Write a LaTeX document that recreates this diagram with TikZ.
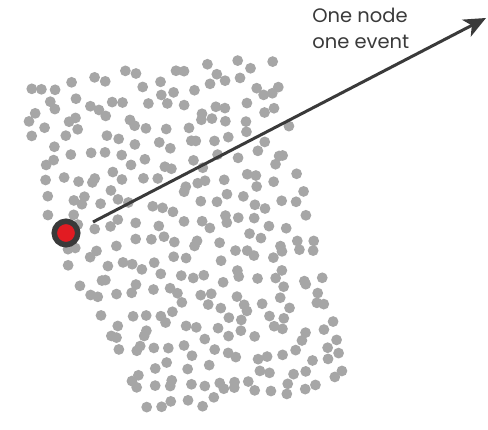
\documentclass[tikz,border=0pt]{standalone}
\usepackage{fontspec}
\setmainfont{Poppins}
\usetikzlibrary{arrows.meta}
\definecolor{dotgray}{HTML}{A6A6A6}
\definecolor{inkgray}{HTML}{3A3A3A}
\definecolor{eventred}{HTML}{E21B22}
\begin{document}
\begin{tikzpicture}[x=1pt, y=-1pt, line width=0.7pt]
	\useasboundingbox (0,0) rectangle (488,430);
	\pgfmathsetseed{4217}
	% nodes on a jittered grid over a skewed quadrilateral, left edge bowed out
	\foreach \i in {0,...,15} {
		\foreach \j in {0,...,18} {
			\pgfmathsetmacro{\u}{min(1,max(0,(\i+0.5+0.9*(rnd-0.5))/16))}
			\pgfmathsetmacro{\v}{min(1,max(0,(\j+0.5+0.9*(rnd-0.5))/19))}
			\pgfmathsetmacro{\px}{(1-\u)*(1-\v)*17 + \u*(1-\v)*274 + \u*\v*352 + (1-\u)*\v*150 - 100*(1-\u)*\v*(1-\v)}
			\pgfmathsetmacro{\py}{(1-\u)*(1-\v)*80 + \u*(1-\v)*54 + \u*\v*383 + (1-\u)*\v*420}
			\fill[dotgray] (\px,\py) circle (5.4pt);
		}
	}
	% the chosen node
	\node[circle, fill=eventred, draw=inkgray, line width=5.5pt,
		minimum size=23.5pt, inner sep=0pt] (event) at (66,233) {};
	\coordinate (tail) at (93,222);
	\coordinate (head) at (486,18);
	\draw[-{Stealth[length=22pt, width=19pt, inset=6pt]}, line width=3pt, inkgray]
		(tail) -- (head);
	\node[anchor=north west, align=left, inner sep=0pt, text=inkgray,
		font=\fontsize{19.5}{26}\selectfont] (caption) at (312,8)
		{One node\\one event};
\end{tikzpicture}
\end{document}
